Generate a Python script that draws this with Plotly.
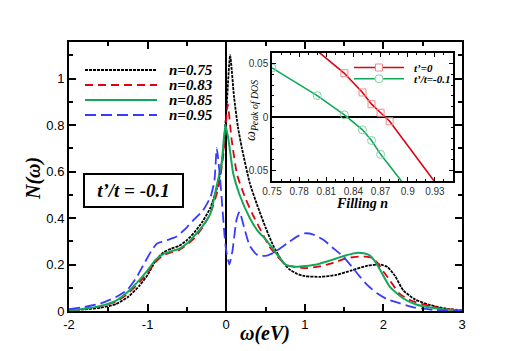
import plotly.graph_objects as go

# n = 0.75
w_075 = [-2.0, -1.8, -1.6, -1.4, -1.25, -1.1, -1.0, -0.9, -0.8, -0.7, -0.6, -0.5, -0.4, -0.3, -0.2, -0.1,
         -0.04, 0.0, 0.05, 0.1, 0.15, 0.2, 0.3, 0.4, 0.5, 0.6, 0.7, 0.8, 0.9, 1.0, 1.2, 1.4, 1.6, 1.8,
         1.95, 2.05, 2.15, 2.25, 2.4, 2.6, 2.8, 3.0]
dos_075 = [0.003, 0.007, 0.014, 0.03, 0.06, 0.11, 0.155, 0.215, 0.252, 0.268, 0.28, 0.305, 0.34, 0.385, 0.445, 0.55,
           0.68, 0.85, 1.10, 0.92, 0.79, 0.70, 0.55, 0.45, 0.36, 0.28, 0.22, 0.18, 0.16, 0.15, 0.147, 0.155, 0.175, 0.195,
           0.2, 0.19, 0.15, 0.09, 0.05, 0.025, 0.01, 0.003]

# n = 0.83
w_083 = [-2.0, -1.8, -1.6, -1.4, -1.25, -1.1, -1.0, -0.9, -0.8, -0.7, -0.6, -0.5, -0.4, -0.3, -0.2, -0.1,
         -0.04, 0.0, 0.02, 0.07, 0.14, 0.25, 0.33, 0.42, 0.55, 0.65, 0.76, 0.9, 1.02, 1.15, 1.27, 1.4, 1.53,
         1.65, 1.78, 1.86, 1.93, 2.0, 2.08, 2.2, 2.35, 2.54, 2.75, 3.0]
dos_083 = [0.004, 0.01, 0.02, 0.04, 0.075, 0.125, 0.165, 0.21, 0.24, 0.252, 0.262, 0.285, 0.315, 0.36, 0.42, 0.53,
           0.66, 0.82, 0.89, 0.735, 0.585, 0.48, 0.42, 0.36, 0.277, 0.235, 0.198, 0.188, 0.184, 0.19, 0.198, 0.212, 0.227,
           0.233, 0.234, 0.228, 0.205, 0.17, 0.133, 0.076, 0.045, 0.026, 0.01, 0.003]

# n = 0.85
w_085 = [-2.0, -1.8, -1.6, -1.4, -1.25, -1.1, -1.0, -0.9, -0.8, -0.7, -0.6, -0.5, -0.4, -0.3, -0.2, -0.12,
         -0.06, -0.01, 0.03, 0.09, 0.17, 0.3, 0.4, 0.51, 0.62, 0.76, 0.9, 1.02, 1.15, 1.27, 1.4, 1.53, 1.65,
         1.75, 1.82, 1.9, 1.97, 2.08, 2.25, 2.4, 2.54, 2.75, 3.0]
dos_085 = [0.004, 0.01, 0.022, 0.045, 0.083, 0.135, 0.175, 0.22, 0.245, 0.257, 0.267, 0.29, 0.325, 0.365, 0.42, 0.54,
           0.63, 0.80, 0.735, 0.59, 0.50, 0.40, 0.345, 0.305, 0.255, 0.198, 0.19, 0.194, 0.2, 0.212, 0.226, 0.24, 0.25,
           0.248, 0.24, 0.21, 0.17, 0.105, 0.055, 0.03, 0.018, 0.008, 0.002]

# n = 0.95
w_095 = [-2.0, -1.8, -1.6, -1.4, -1.26, -1.15, -1.05, -0.95, -0.88, -0.75, -0.63, -0.5, -0.42, -0.3, -0.2, -0.15,
         -0.12, -0.08, -0.05, -0.02, 0.0, 0.04, 0.08, 0.13, 0.17, 0.22, 0.3, 0.4, 0.5, 0.6, 0.77, 0.9, 1.0, 1.1,
         1.24, 1.38, 1.49, 1.6, 1.7, 1.8, 1.92, 2.05, 2.21, 2.4, 2.63, 3.0]
dos_095 = [0.008, 0.018, 0.032, 0.06, 0.09, 0.14, 0.2, 0.26, 0.29, 0.305, 0.32, 0.36, 0.39, 0.43, 0.49, 0.56,
           0.70, 0.58, 0.45, 0.32, 0.26, 0.20, 0.26, 0.39, 0.427, 0.37, 0.28, 0.24, 0.237, 0.25, 0.29, 0.32, 0.334, 0.33,
           0.305, 0.265, 0.234, 0.19, 0.148, 0.11, 0.076, 0.05, 0.033, 0.015, 0.005, 0.001]

# inset: peak position vs filling
fill_t0 = [0.83, 0.85, 0.86, 0.87, 0.88]
peak_t0 = [0.041, 0.023, 0.012, 0.004, -0.004]
fill_t0_line = [0.80, 0.83, 0.85, 0.86, 0.87, 0.88, 0.93]
peak_t0_line = [0.062, 0.041, 0.023, 0.012, 0.004, -0.004, -0.061]

fill_t1 = [0.75, 0.80, 0.83, 0.85, 0.86, 0.87]
peak_t1 = [0.046, 0.020, 0.002, -0.012, -0.022, -0.035]
fill_t1_line = [0.75, 0.80, 0.83, 0.85, 0.86, 0.87, 0.893]
peak_t1_line = [0.046, 0.020, 0.002, -0.012, -0.022, -0.035, -0.06]

W, H = 526, 351
PAGE_PAD = 8  # default body margin of the html page
SERIF = "Liberation Serif"
SANS = "Liberation Sans"
RED = "#e3000f"
GREEN = "#12a85a"
BLUE = "#3a3aff"
RED_MK = "#f08a8a"
GREEN_MK = "#7fd3a4"


def px(x):
    return (x - PAGE_PAD) / W


def py(y):
    return 1 - (y - PAGE_PAD) / H


fig = go.Figure()

main = [
    (w_075, dos_075, "n=0.75", "black", "3px,1px", 1.8),
    (w_083, dos_083, "n=0.83", RED, "8px,5px", 1.8),
    (w_085, dos_085, "n=0.85", GREEN, "solid", 2.0),
    (w_095, dos_095, "n=0.95", BLUE, "11px,5px", 1.8),
]
for x, y, name, color, dash, width in main:
    fig.add_trace(go.Scatter(
        x=x, y=y, name=name, mode="lines", showlegend=False,
        line=dict(color=color, dash=dash, width=width, shape="spline", smoothing=0.5),
        xaxis="x", yaxis="y"
    ))

fig.add_trace(go.Scatter(
    x=fill_t0_line, y=peak_t0_line, mode="lines", showlegend=False,
    line=dict(color=RED, width=1.6), xaxis="x2", yaxis="y2"
))
fig.add_trace(go.Scatter(
    x=fill_t1_line, y=peak_t1_line, mode="lines", showlegend=False,
    line=dict(color=GREEN, width=1.6), xaxis="x2", yaxis="y2"
))
fig.add_trace(go.Scatter(
    x=fill_t0, y=peak_t0, mode="markers", name="t’=0", showlegend=False,
    marker=dict(symbol="square-open", size=7, color=RED_MK, line=dict(width=1)),
    xaxis="x2", yaxis="y2"
))
fig.add_trace(go.Scatter(
    x=fill_t1, y=peak_t1, mode="markers", name="t’/t=-0.1", showlegend=False,
    marker=dict(symbol="circle-open", size=8, color=GREEN_MK, line=dict(width=1)),
    xaxis="x2", yaxis="y2"
))

# legend keys drawn by hand so spacing matches the original
shapes = []
annotations = []
for i, (_, _, name, color, dash, width) in enumerate(main):
    yy = 70 + 15 * i
    shapes.append(dict(type="line", xref="paper", yref="paper",
                       x0=px(85), x1=px(157), y0=py(yy), y1=py(yy),
                       line=dict(color=color, dash=dash, width=width)))
    annotations.append(dict(text="<b><i>%s</i></b>" % name, x=px(167), y=py(yy),
                            xref="paper", yref="paper", xanchor="left", yanchor="middle",
                            showarrow=False, font=dict(family=SERIF, size=15)))

inset_keys = [("t’=0", RED, RED_MK, "rect", 67.5), ("t’/t=-0.1", GREEN, GREEN_MK, "circle", 78.8)]
for name, color, mk, sym, yy in inset_keys:
    shapes.append(dict(type="line", xref="paper", yref="paper",
                       x0=px(354), x1=px(404), y0=py(yy), y1=py(yy),
                       line=dict(color=color, width=1.6)))
    r = 3.5 if sym == "rect" else 4
    shapes.append(dict(type=sym, xref="paper", yref="paper",
                       x0=px(379 - r), x1=px(379 + r), y0=py(yy - r), y1=py(yy + r),
                       line=dict(color=mk, width=1), fillcolor="white"))
    annotations.append(dict(text="<b><i>%s</i></b>" % name, x=px(412), y=py(yy),
                            xref="paper", yref="paper", xanchor="left", yanchor="middle",
                            showarrow=False, font=dict(family=SERIF, size=11)))

centered = dict(xref="paper", yref="paper", xanchor="center", yanchor="middle", showarrow=False)
annotations += [
    dict(text="<b><i>t’/t = -0.1</i></b>", x=px(133.5), y=py(190),
         font=dict(family=SERIF, size=19), bordercolor="black",
         borderwidth=2, borderpad=1, bgcolor="white", width=95, height=29, **centered),
    dict(text="<b><i>N(ω)</i></b>", x=px(33), y=py(179), textangle=-90,
         font=dict(family=SERIF, size=20), **centered),
    dict(text="<b><i>ω(eV)</i></b>", x=px(265), y=py(333),
         font=dict(family=SERIF, size=20), **centered),
    dict(text="<b><i>Filling n</i></b>", x=px(362), y=py(203),
         font=dict(family=SERIF, size=14), **centered),
    dict(text="<i>ω<sub>Peak of DOS</sub></i>", x=px(252), y=py(111), textangle=-90,
         font=dict(family=SERIF, size=14), **centered),
]

axis_common = dict(
    showline=True, linecolor="black", mirror="allticks", ticks="inside",
    tickcolor="black", showgrid=False, automargin=False,
)

fig.update_layout(
    width=W, height=H,
    margin=dict(l=0, r=0, t=0, b=0),
    paper_bgcolor="white", plot_bgcolor="white",
    font=dict(family=SANS, color="black"),
    showlegend=False,
    xaxis=dict(
        domain=[px(69), px(462)], range=[-2, 3],
        tickvals=[-2, -1, 0, 1, 2, 3], ticktext=["-2", "-1", "0", "1", "2", "3"],
        ticklen=7, tickwidth=1.5, linewidth=2, tickfont=dict(size=13),
        minor=dict(ticks="inside", dtick=0.5, ticklen=4, tickcolor="black"),
        zeroline=True, zerolinecolor="black", zerolinewidth=1.8,
        **axis_common
    ),
    yaxis=dict(
        domain=[py(311), py(42)], range=[0, 1.157],
        tickvals=[0, 0.2, 0.4, 0.6, 0.8, 1.0], ticktext=["0", "0.2", "0.4", "0.6", "0.8", "1"],
        ticklen=7, tickwidth=1.5, linewidth=2, tickfont=dict(size=13),
        minor=dict(ticks="inside", dtick=0.1, ticklen=4, tickcolor="black"),
        zeroline=False,
        **axis_common
    ),
    xaxis2=dict(
        domain=[px(272), px(453)], range=[0.75, 0.95], anchor="y2",
        tickvals=[0.75, 0.78, 0.81, 0.84, 0.87, 0.9, 0.93],
        ticktext=["0.75", "0.78", "0.81", "0.84", "0.87", "0.9", "0.93"],
        ticklen=4, linewidth=1.5, tickfont=dict(size=10, color="#333"),
        minor=dict(ticks="inside", dtick=0.01, ticklen=2.5, tickcolor="black"),
        zeroline=False,
        **axis_common
    ),
    yaxis2=dict(
        domain=[py(181), py(53)], range=[-0.06, 0.06], anchor="x2",
        tickvals=[-0.05, 0, 0.05], ticktext=["-0.05", "0", "0.05"],
        ticklen=4, linewidth=1.5, tickfont=dict(size=10, color="#333"),
        minor=dict(ticks="inside", dtick=0.01, ticklen=2.5, tickcolor="black"),
        zeroline=True, zerolinecolor="black", zerolinewidth=1.6,
        **axis_common
    ),
    shapes=shapes,
    annotations=annotations,
)

fig.write_html("out.html")
